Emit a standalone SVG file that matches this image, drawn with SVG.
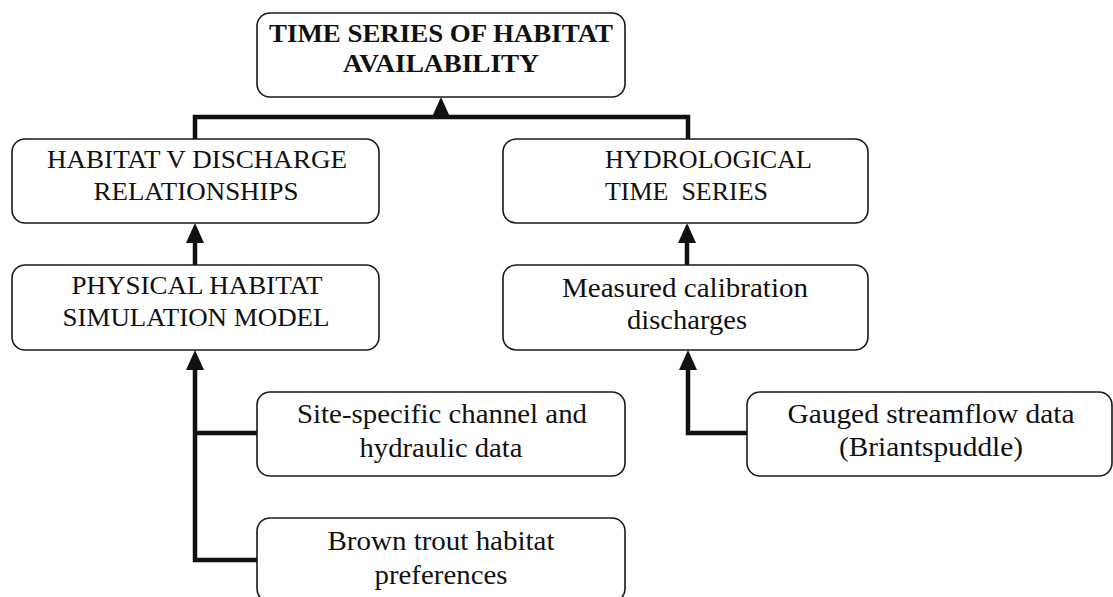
<svg xmlns="http://www.w3.org/2000/svg" width="1113" height="597" viewBox="0 0 1113 597">
<defs>
<style>
.box{fill:#fff;stroke:#1a1a1a;stroke-width:1.6}
.t{font-family:"Liberation Serif","Times New Roman",serif;fill:#111;text-anchor:middle}
.cap{font-size:25px}
.low{font-size:28px}
.bold{font-size:26px;font-weight:bold}
.con{fill:none;stroke:#111;stroke-width:4.5;stroke-linejoin:miter}
</style>
<marker id="ah" viewBox="0 0 20 18" refX="11" refY="9" markerWidth="20" markerHeight="18" markerUnits="userSpaceOnUse" orient="auto">
<path d="M0,0 L20,9 L0,18 z" fill="#111"/>
</marker>
</defs>
<rect width="1113" height="597" fill="#fff"/>
<g id="connectors">
<path class="con" d="M195,139 V117 H688 V139"/>
<path class="con" d="M441,119 V106" marker-end="url(#ah)"/>
<path class="con" d="M195,265 V232" marker-end="url(#ah)"/>
<path class="con" d="M687,265 V232" marker-end="url(#ah)"/>
<path class="con" d="M257,560 H195 V359" marker-end="url(#ah)"/>
<path class="con" d="M257,433 H195"/>
<path class="con" d="M747,433 H688 V359" marker-end="url(#ah)"/>
</g>
<g id="time-series">
<rect class="box" x="257" y="13" width="368" height="84" rx="13"/>
<text class="t bold" x="441" y="42" textLength="344" lengthAdjust="spacingAndGlyphs">TIME SERIES OF HABITAT</text>
<text class="t bold" x="441" y="72" textLength="196" lengthAdjust="spacingAndGlyphs">AVAILABILITY</text>
</g>
<g id="habitat-discharge">
<rect class="box" x="12" y="139" width="367" height="84" rx="13"/>
<text class="t cap" x="197" y="168" textLength="300" lengthAdjust="spacingAndGlyphs">HABITAT V DISCHARGE</text>
<text class="t cap" x="196" y="200" textLength="205" lengthAdjust="spacingAndGlyphs">RELATIONSHIPS</text>
</g>
<g id="hydrological">
<rect class="box" x="503" y="139" width="365" height="84" rx="13"/>
<text class="t cap" x="605" y="168" style="text-anchor:start" textLength="207" lengthAdjust="spacingAndGlyphs">HYDROLOGICAL</text>
<text class="t cap" x="605" y="200" style="text-anchor:start;white-space:pre" textLength="163" lengthAdjust="spacingAndGlyphs">TIME  SERIES</text>
</g>
<g id="physical-habitat">
<rect class="box" x="12" y="265" width="367" height="85" rx="13"/>
<text class="t cap" x="197" y="294" textLength="251" lengthAdjust="spacingAndGlyphs">PHYSICAL HABITAT</text>
<text class="t cap" x="196" y="326" textLength="267" lengthAdjust="spacingAndGlyphs">SIMULATION MODEL</text>
</g>
<g id="measured">
<rect class="box" x="503" y="265" width="365" height="85" rx="13"/>
<text class="t low" x="685" y="297" textLength="246" lengthAdjust="spacingAndGlyphs">Measured calibration</text>
<text class="t low" x="687" y="329" textLength="120" lengthAdjust="spacingAndGlyphs">discharges</text>
</g>
<g id="site-specific">
<rect class="box" x="257" y="392" width="368" height="84" rx="13"/>
<text class="t low" x="442" y="423" textLength="290" lengthAdjust="spacingAndGlyphs">Site-specific channel and</text>
<text class="t low" x="441" y="457" textLength="163" lengthAdjust="spacingAndGlyphs">hydraulic data</text>
</g>
<g id="gauged">
<rect class="box" x="747" y="392" width="365" height="84" rx="13"/>
<text class="t low" x="931" y="423" textLength="287" lengthAdjust="spacingAndGlyphs">Gauged streamflow data</text>
<text class="t low" x="931" y="456" textLength="184" lengthAdjust="spacingAndGlyphs">(Briantspuddle)</text>
</g>
<g id="brown-trout">
<rect class="box" x="257" y="518" width="368" height="84" rx="13"/>
<text class="t low" x="441" y="550" textLength="227" lengthAdjust="spacingAndGlyphs">Brown trout habitat</text>
<text class="t low" x="441" y="584" textLength="133" lengthAdjust="spacingAndGlyphs">preferences</text>
</g>
</svg>
